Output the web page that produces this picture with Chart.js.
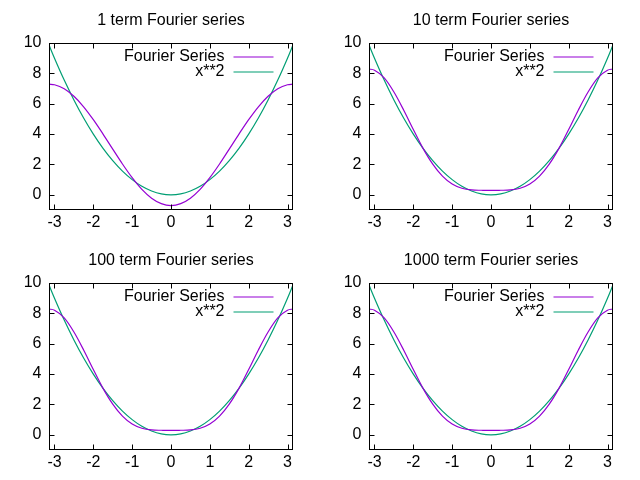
<!DOCTYPE html>
<html>
<head>
<meta charset="utf-8">
<script src="https://cdn.jsdelivr.net/npm/chart.js@4.4.1/dist/chart.umd.min.js"></script>
<style>
  body { margin: 0; background: #fff; }
  #wrap { position: relative; width: 640px; height: 480px; }
  #wrap canvas { position: absolute; }
</style>
</head>
<body>
<div id="wrap">
  <canvas id="g1" width="320" height="240" style="left:0;top:0"></canvas>
  <canvas id="g2" width="320" height="240" style="left:320px;top:0"></canvas>
  <canvas id="g3" width="320" height="240" style="left:0;top:240px"></canvas>
  <canvas id="g4" width="320" height="240" style="left:320px;top:240px"></canvas>
</div>
<script>
// sample positions along x (from -pi to pi)
const xVals = [-3.1416, -3.0, -2.75, -2.5, -2.25, -2.0, -1.75, -1.5, -1.25, -1.0, -0.75, -0.5, -0.25, 0,
               0.25, 0.5, 0.75, 1.0, 1.25, 1.5, 1.75, 2.0, 2.25, 2.5, 2.75, 3.0, 3.1416];
const xSquared = [9.87, 9.0, 7.56, 6.25, 5.06, 4.0, 3.06, 2.25, 1.56, 1.0, 0.56, 0.25, 0.06, 0,
                  0.06, 0.25, 0.56, 1.0, 1.56, 2.25, 3.06, 4.0, 5.06, 6.25, 7.56, 9.0, 9.87];
const fourierOne = [7.29, 7.25, 6.99, 6.49, 5.80, 4.95, 4.00, 3.01, 2.03, 1.13, 0.36, -0.22, -0.58, -0.71,
                    -0.58, -0.22, 0.36, 1.13, 2.03, 3.01, 4.00, 4.95, 5.80, 6.49, 6.99, 7.25, 7.29];
// the 10, 100 and 1000 term panels show the same curve
const fourierMany = [8.29, 8.21, 7.70, 6.77, 5.59, 4.30, 3.06, 2.02, 1.23, 0.71, 0.43, 0.32, 0.30, 0.29,
                     0.30, 0.32, 0.43, 0.71, 1.23, 2.02, 3.06, 4.30, 5.59, 6.77, 7.70, 8.21, 8.29];
const xTicks = [-3, -2, -1, 0, 1, 2, 3];
const yTicks = [0, 2, 4, 6, 8, 10];
const titulos = ['1 term Fourier series', '10 term Fourier series', '100 term Fourier series', '1000 term Fourier series'];
const seriesNames = ['Fourier Series', 'x**2'];

const ROXO = '#9400d3';
const VERDE = '#009e73';
const FONTE = '16px "Liberation Sans", Arial, sans-serif';

function pontos(ys) {
    return xVals.map((x, i) => ({ x: x, y: ys[i] }));
}

// gnuplot style frame: border, inward ticks on all sides, labels, title and key
const quadroGnuplot = {
    id: 'quadroGnuplot',
    afterDraw(chart, args, opts) {
        const { ctx, chartArea: a, scales: { x, y } } = chart;
        const L = Math.round(a.left) + 0.5, R = Math.round(a.right) - 0.5;
        const T = Math.round(a.top) + 0.5, B = Math.round(a.bottom) - 0.5;
        const tl = 5;
        ctx.save();
        ctx.strokeStyle = '#000';
        ctx.lineWidth = 1;
        ctx.beginPath();
        xTicks.forEach(v => {
            const px = Math.round(x.getPixelForValue(v)) + 0.5;
            ctx.moveTo(px, B); ctx.lineTo(px, B - tl);
            ctx.moveTo(px, T); ctx.lineTo(px, T + tl);
        });
        yTicks.forEach(v => {
            const py = Math.round(y.getPixelForValue(v)) + 0.5;
            ctx.moveTo(L, py); ctx.lineTo(L + tl, py);
            ctx.moveTo(R, py); ctx.lineTo(R - tl, py);
        });
        ctx.stroke();
        ctx.strokeRect(L, T, R - L, B - T);

        ctx.fillStyle = '#000';
        ctx.font = FONTE;
        ctx.textAlign = 'right';
        ctx.textBaseline = 'middle';
        yTicks.forEach(v => ctx.fillText(String(v), L - 8, y.getPixelForValue(v)));
        ctx.textAlign = 'center';
        xTicks.forEach(v => ctx.fillText(String(v), x.getPixelForValue(v), B + 13));
        ctx.fillText(opts.titulo, (L + R) / 2, 21);

        // key
        chart.data.datasets.forEach((ds, i) => {
            const ly = T + 13.5 + i * 15;
            ctx.textAlign = 'right';
            ctx.fillText(ds.label, R - 68, ly);
            ctx.strokeStyle = ds.borderColor;
            ctx.lineWidth = 1.2;
            ctx.beginPath();
            ctx.moveTo(R - 59, ly);
            ctx.lineTo(R - 19, ly);
            ctx.stroke();
        });
        ctx.restore();
    }
};

function criarGrafico(id, fourier, titulo) {
    new Chart(document.getElementById(id), {
        type: 'line',
        data: {
            datasets: [
                { label: seriesNames[0], data: pontos(fourier), borderColor: ROXO, borderWidth: 1.2,
                  pointRadius: 0, cubicInterpolationMode: 'monotone', fill: false },
                { label: seriesNames[1], data: pontos(xSquared), borderColor: VERDE, borderWidth: 1.2,
                  pointRadius: 0, cubicInterpolationMode: 'monotone', fill: false }
            ]
        },
        options: {
            responsive: false,
            animation: false,
            devicePixelRatio: 1,
            layout: { padding: { left: 49, right: 27, top: 43, bottom: 30 } },
            scales: {
                x: { type: 'linear', min: -3.1416, max: 3.1416, display: false },
                y: { type: 'linear', min: -1, max: 10, display: false }
            },
            plugins: {
                legend: { display: false },
                tooltip: { enabled: false },
                quadroGnuplot: { titulo: titulo }
            }
        },
        plugins: [quadroGnuplot]
    });
}

criarGrafico('g1', fourierOne, titulos[0]);
criarGrafico('g2', fourierMany, titulos[1]);
criarGrafico('g3', fourierMany, titulos[2]);
criarGrafico('g4', fourierMany, titulos[3]);
</script>
</body>
</html>
